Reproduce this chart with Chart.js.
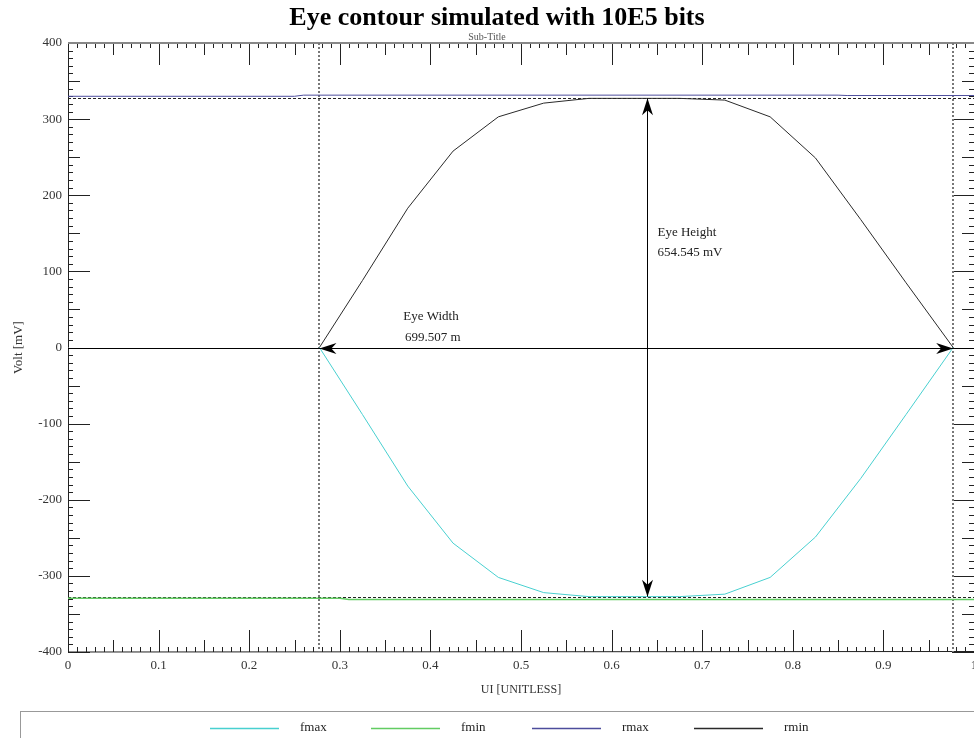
<!DOCTYPE html>
<html>
<head>
<meta charset="utf-8">
<script src="https://cdn.jsdelivr.net/npm/chart.js@4.4.1/dist/chart.umd.min.js"></script>
<style>
  body { margin: 0; background: #fff; }
  #wrap { width: 974px; height: 738px; }
</style>
</head>
<body>
<div id="wrap"><canvas id="eyeChart" width="974" height="738"></canvas></div>
<script>
// Eye contour data (UI on x, mV on y)
let uiX = [0.2775, 0.325, 0.375, 0.425, 0.475, 0.525, 0.575, 0.625, 0.675, 0.725, 0.775, 0.825, 0.875, 0.925, 0.977];
let rminV = [0, 88, 183, 258, 303, 321, 327.27, 327.27, 327.27, 325, 303, 249, 168, 85, 0];
let fmaxV = [0, -88, -182, -257, -302, -322, -327.27, -327.27, -327.27, -324, -302, -249, -172, -88, 0];

let rmaxX = [0, 0.25, 0.26, 0.85, 0.86, 1];
let rmaxV = [330, 330, 331.5, 331.5, 331, 331];
let fminX = [0, 0.3, 0.31, 1];
let fminV = [-329.5, -329.5, -331, -331];

// eye measurement markers
let eyeLeft = 0.2775;
let eyeRight = 0.977;
let eyeCenter = 0.639;
let eyeTop = 327.27;
let eyeBottom = -327.27;
let eyeWidthText = "699.507 m";
let eyeHeightText = "654.545 mV";

let xTicks = [0, 0.1, 0.2, 0.3, 0.4, 0.5, 0.6, 0.7, 0.8, 0.9, 1];
let yTicks = [-400, -300, -200, -100, 0, 100, 200, 300, 400];

let serif = "'Liberation Serif', 'Times New Roman', serif";

function toPoints(xs, ys) {
  let pts = [];
  for (let i = 0; i < xs.length; i++) {
    pts.push({ x: xs[i], y: ys[i] });
  }
  return pts;
}

function arrowHead(ctx, tx, ty, dx, dy) {
  // tip at (tx,ty), pointing along (dx,dy)
  let len = 17, half = 5.5, notch = 12;
  let px = -dy, py = dx;
  ctx.beginPath();
  ctx.moveTo(tx, ty);
  ctx.lineTo(tx - dx * len + px * half, ty - dy * len + py * half);
  ctx.lineTo(tx - dx * notch, ty - dy * notch);
  ctx.lineTo(tx - dx * len - px * half, ty - dy * len - py * half);
  ctx.closePath();
  ctx.fill();
}

// inward tick marks on all four sides + frame
const tickMarks = {
  id: "tickMarks",
  beforeDatasetsDraw(chart) {
    let ctx = chart.ctx;
    let a = chart.chartArea;
    let xs = chart.scales.x;
    let ys = chart.scales.y;
    ctx.save();
    ctx.strokeStyle = "#222";
    ctx.lineWidth = 1;
    for (let v = -400; v <= 400; v += 10) {
      let len = v % 100 === 0 ? 22 : (v % 50 === 0 ? 12 : 5);
      let y = Math.round(ys.getPixelForValue(v)) + 0.5;
      ctx.beginPath();
      ctx.moveTo(a.left, y); ctx.lineTo(a.left + len, y);
      ctx.moveTo(a.right, y); ctx.lineTo(a.right - len, y);
      ctx.stroke();
    }
    for (let i = 0; i <= 100; i++) {
      let len = i % 10 === 0 ? 22 : (i % 5 === 0 ? 12 : 5);
      let x = Math.round(xs.getPixelForValue(i / 100)) + 0.5;
      ctx.beginPath();
      ctx.moveTo(x, a.bottom); ctx.lineTo(x, a.bottom - len);
      ctx.moveTo(x, a.top); ctx.lineTo(x, a.top + len);
      ctx.stroke();
    }
    // frame
    ctx.beginPath();
    ctx.moveTo(a.left + 0.5, a.top); ctx.lineTo(a.left + 0.5, a.bottom);
    ctx.lineTo(a.right, a.bottom - 0.5);
    ctx.stroke();
    ctx.strokeStyle = "#888";
    ctx.lineWidth = 2;
    ctx.beginPath();
    ctx.moveTo(a.left, a.top); ctx.lineTo(a.right, a.top);
    ctx.stroke();

    // eye boundary guides
    ctx.strokeStyle = "#222";
    ctx.lineWidth = 1;
    ctx.setLineDash([3, 2]);
    [eyeTop, eyeBottom].forEach(function (v) {
      let y = Math.round(ys.getPixelForValue(v)) + 0.5;
      ctx.beginPath();
      ctx.moveTo(a.left, y); ctx.lineTo(a.right, y);
      ctx.stroke();
    });
    ctx.strokeStyle = "#777";
    ctx.lineWidth = 2;
    ctx.setLineDash([2, 2]);
    [eyeLeft, eyeRight].forEach(function (v) {
      let x = Math.round(xs.getPixelForValue(v));
      ctx.beginPath();
      ctx.moveTo(x, a.top); ctx.lineTo(x, a.bottom);
      ctx.stroke();
    });
    ctx.restore();
  },
  afterDatasetsDraw(chart) {
    let ctx = chart.ctx;
    let a = chart.chartArea;
    let xs = chart.scales.x;
    let ys = chart.scales.y;
    ctx.save();
    ctx.strokeStyle = "#000";
    ctx.fillStyle = "#000";
    ctx.lineWidth = 1;
    // eye width arrow
    let y0 = Math.round(ys.getPixelForValue(0)) + 0.5;
    let xl = xs.getPixelForValue(eyeLeft);
    let xr = xs.getPixelForValue(eyeRight);
    ctx.beginPath();
    ctx.moveTo(a.left, y0); ctx.lineTo(a.right, y0);
    ctx.stroke();
    arrowHead(ctx, xl, y0, -1, 0);
    arrowHead(ctx, xr, y0, 1, 0);
    // eye height arrow
    let xc = Math.round(xs.getPixelForValue(eyeCenter)) + 0.5;
    let yt = ys.getPixelForValue(eyeTop);
    let yb = ys.getPixelForValue(eyeBottom);
    ctx.beginPath();
    ctx.moveTo(xc, yt); ctx.lineTo(xc, yb);
    ctx.stroke();
    arrowHead(ctx, xc, yt, 0, -1);
    arrowHead(ctx, xc, yb, 0, 1);

    ctx.font = "13px " + serif;
    ctx.fillStyle = "#222";
    ctx.textBaseline = "middle";
    ctx.textAlign = "left";
    ctx.fillText("Eye Width", xs.getPixelForValue(0.37), ys.getPixelForValue(41));
    ctx.fillText(eyeWidthText, xs.getPixelForValue(0.372), ys.getPixelForValue(12.5));
    ctx.fillText("Eye Height", xc + 10, ys.getPixelForValue(151));
    ctx.fillText(eyeHeightText, xc + 10, ys.getPixelForValue(124.5));
    ctx.restore();
  },
  afterDraw(chart) {
    let ctx = chart.ctx;
    ctx.save();
    // title + subtitle
    ctx.textAlign = "center";
    ctx.textBaseline = "middle";
    ctx.fillStyle = "#555";
    ctx.font = "10px " + serif;
    ctx.fillText("Sub-Title", 487, 37);
    ctx.fillStyle = "#000";
    ctx.font = "bold 26px " + serif;
    ctx.fillText("Eye contour simulated with 10E5 bits", 497, 18);

    // legend box
    ctx.strokeStyle = "#999";
    ctx.lineWidth = 1;
    ctx.strokeRect(20.5, 711.5, 970, 40);
    let lineStarts = [210, 371, 532, 694];
    ctx.font = "13px " + serif;
    ctx.textAlign = "left";
    chart.data.datasets.forEach(function (ds, i) {
      let x = lineStarts[i];
      ctx.strokeStyle = ds.borderColor;
      ctx.lineWidth = 1.5;
      ctx.beginPath();
      ctx.moveTo(x, 728.5); ctx.lineTo(x + 69, 728.5);
      ctx.stroke();
      ctx.fillStyle = "#222";
      ctx.fillText(ds.label, x + 90, 728);
    });
    ctx.restore();
  }
};

let lineStyle = { showLine: true, pointRadius: 0, borderWidth: 1, tension: 0, fill: false };

const data = {
  datasets: [
    Object.assign({ label: "fmax", borderColor: "#48d0d0", data: toPoints(uiX, fmaxV) }, lineStyle),
    Object.assign({ label: "fmin", borderColor: "#62cc62", data: toPoints(fminX, fminV) }, lineStyle, { borderWidth: 1.5 }),
    Object.assign({ label: "rmax", borderColor: "#4d4d9c", data: toPoints(rmaxX, rmaxV) }, lineStyle),
    Object.assign({ label: "rmin", borderColor: "#2a2a2a", data: toPoints(uiX, rminV) }, lineStyle),
  ],
};

const config = {
  type: "scatter",
  data: data,
  options: {
    responsive: false,
    animation: false,
    layout: { padding: { top: 43, left: 0, right: 0, bottom: 0 } },
    plugins: { legend: { display: false }, tooltip: { enabled: false } },
    scales: {
      x: {
        type: "linear",
        min: 0,
        max: 1,
        grid: { display: false, drawTicks: false },
        border: { display: false },
        afterBuildTicks(scale) {
          scale.ticks = xTicks.map(function (v) { return { value: v }; });
        },
        ticks: {
          font: { family: serif, size: 13 },
          color: "#333",
          padding: 6,
          maxRotation: 0,
          autoSkip: false,
          callback: function (v) { return v === 0 || v === 1 ? String(v) : v.toFixed(1); },
        },
        title: {
          display: true,
          text: "UI [UNITLESS]",
          font: { family: serif, size: 12 },
          color: "#333",
          padding: { top: 0, bottom: 41 },
        },
        afterFit(scale) {
          scale.height = 86;
          scale.paddingLeft = 0;
          scale.paddingRight = 0;
        },
      },
      y: {
        type: "linear",
        min: -400,
        max: 400,
        grid: { display: false, drawTicks: false },
        border: { display: false },
        afterBuildTicks(scale) {
          scale.ticks = yTicks.map(function (v) { return { value: v }; });
        },
        ticks: {
          font: { family: serif, size: 13 },
          color: "#333",
          padding: 6,
          autoSkip: false,
        },
        title: {
          display: true,
          text: "Volt [mV]",
          font: { family: serif, size: 13 },
          color: "#333",
          padding: { top: 11, bottom: 0 },
        },
        afterFit(scale) {
          scale.width = 68;
          scale.paddingTop = 0;
          scale.paddingBottom = 0;
        },
      },
    },
  },
  plugins: [tickMarks],
};

const eyeChart = new Chart(document.getElementById("eyeChart").getContext("2d"), config);
</script>
</body>
</html>
